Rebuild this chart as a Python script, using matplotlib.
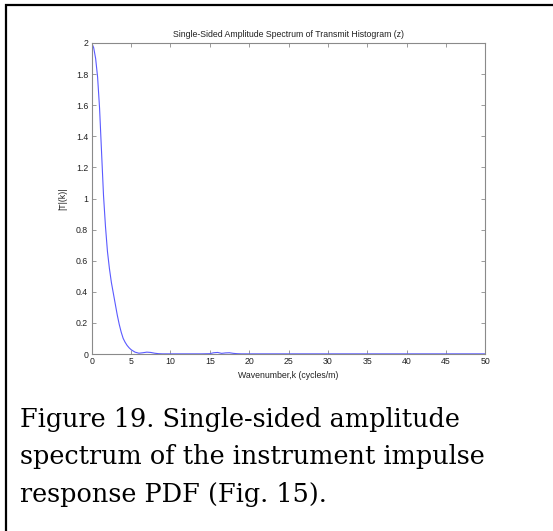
import matplotlib
matplotlib.use("Agg")
import matplotlib.pyplot as plt
from matplotlib.patches import Rectangle

# Data
k = [0, 0.25, 0.5, 0.75, 1.0, 1.25, 1.5, 1.75, 2.0, 2.25, 2.5, 2.75, 3.0, 3.25,
     3.5, 3.75, 4.0, 4.25, 4.5, 4.75, 5.0, 5.5, 6.0, 6.5, 7.0, 7.5, 8.0, 8.5,
     9.0, 10, 11, 12, 13, 14, 15, 15.5, 16, 16.5, 17, 17.5, 18, 18.5, 19, 20,
     25, 30, 35, 40, 45, 50]
amp = [2.0, 1.97, 1.90, 1.78, 1.58, 1.30, 1.02, 0.82, 0.66, 0.55, 0.46, 0.39,
       0.32, 0.25, 0.19, 0.14, 0.10, 0.075, 0.055, 0.04, 0.028, 0.012, 0.005,
       0.008, 0.012, 0.010, 0.005, 0.002, 0.001, 0.001, 0.001, 0.001, 0.001,
       0.001, 0.002, 0.008, 0.010, 0.004, 0.007, 0.008, 0.004, 0.002, 0.001,
       0.001, 0.001, 0.001, 0.001, 0.001, 0.001, 0.001]
x_ticks = [0, 5, 10, 15, 20, 25, 30, 35, 40, 45, 50]
y_ticks = [0, 0.2, 0.4, 0.6, 0.8, 1.0, 1.2, 1.4, 1.6, 1.8, 2.0]
y_tick_labels = ["0", "0.2", "0.4", "0.6", "0.8", "1", "1.2", "1.4", "1.6", "1.8", "2"]

title = "Single-Sided Amplitude Spectrum of Transmit Histogram (z)"
xlabel = "Wavenumber,k (cycles/m)"
ylabel = "|T|(k)|"
caption = ("Figure 19. Single-sided amplitude\n"
           "spectrum of the instrument impulse\n"
           "response PDF (Fig. 15).")

W, H = 553, 531
fig = plt.figure(figsize=(W / 100, H / 100), dpi=100)
fig.patch.set_facecolor("white")

# outer frame (extends beyond right/bottom edges)
fig.patches.append(Rectangle((6 / W, -0.2), 1.2, 1.2 - 5 / H,
                             transform=fig.transFigure, fill=False,
                             edgecolor="black", linewidth=1.6, zorder=0))

ax = fig.add_axes([91.7 / W, 1 - 354 / H, (485.3 - 91.7) / W, (354 - 43) / H])
ax.plot(k, amp, color="#5a5aff", linewidth=0.8)
ax.set_xlim(0, 50)
ax.set_ylim(0, 2)
ax.set_xticks(x_ticks)
ax.set_yticks(y_ticks)
ax.set_yticklabels(y_tick_labels)

font = "Liberation Sans"
fs = 6.3
for lab in ax.get_xticklabels() + ax.get_yticklabels():
    lab.set_fontfamily(font)
    lab.set_fontsize(fs)
    lab.set_color("#222222")

for sp in ax.spines.values():
    sp.set_color("#8a8a8a")
    sp.set_linewidth(0.8)
ax.tick_params(direction="in", length=3, width=0.6, color="#8a8a8a",
               top=True, right=True, pad=2.5)

ax.set_title(title, fontsize=fs, family=font, color="#222222", pad=4)
ax.set_xlabel(xlabel, fontsize=fs, family=font, color="#222222", labelpad=3)
ax.set_ylabel(ylabel, fontsize=fs, family=font, color="#222222", labelpad=6)

fig.text(20 / W, 1 - 407 / H, caption, family="DejaVu Serif", fontsize=18.4,
         va="top", ha="left", linespacing=1.62, color="black")

fig.savefig("out.png", dpi=100)
